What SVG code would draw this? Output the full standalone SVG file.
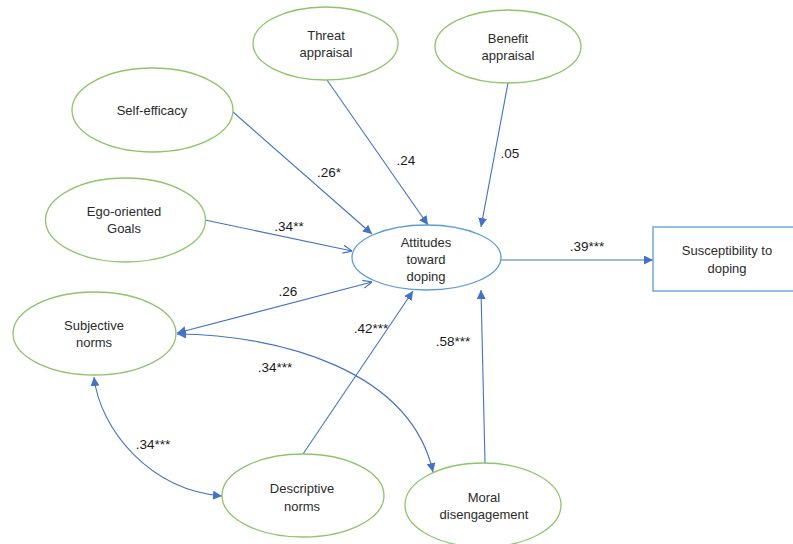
<svg xmlns="http://www.w3.org/2000/svg" width="793" height="544" viewBox="0 0 793 544">
<defs>
<style>
.n{fill:#fff;stroke:#8fc46c;stroke-width:1.3}
.b{fill:#fff;stroke:#5b9bd5;stroke-width:1.3}
.t{font-family:"Liberation Sans",Arial,sans-serif;font-size:13px;fill:#2b2b2b;text-anchor:middle}
.l{font-family:"Liberation Sans",Arial,sans-serif;font-size:13.5px;fill:#1a1a1a;text-anchor:middle}
.c{fill:none;stroke:#4472c4;stroke-width:1.1}
</style>
<marker id="f" viewBox="0 0 10 10" refX="10" refY="5" markerWidth="9" markerHeight="9" markerUnits="userSpaceOnUse" orient="auto-start-reverse"><path d="M0,0 L10,5 L0,10 Z" fill="#4472c4"/></marker>
<marker id="o" viewBox="0 0 10 10" refX="10" refY="5" markerWidth="10" markerHeight="10" markerUnits="userSpaceOnUse" orient="auto-start-reverse"><path d="M1,1 L10,5 L1,9" fill="none" stroke="#4472c4" stroke-width="1.2"/></marker>
</defs>
<rect width="793" height="544" fill="#fff"/>
<g id="connectors">
<line class="c" x1="233" y1="112" x2="372" y2="234" marker-end="url(#f)"/>
<line class="c" x1="327" y1="80" x2="428" y2="225" marker-end="url(#f)"/>
<line class="c" x1="508" y1="83" x2="481" y2="227" marker-end="url(#f)"/>
<line class="c" x1="205" y1="220" x2="352" y2="251" marker-end="url(#o)"/>
<line class="c" x1="177" y1="333" x2="372" y2="282" marker-start="url(#f)" marker-end="url(#o)"/>
<path class="c" d="M177,334 C280,335 410,370 433,472" marker-start="url(#f)" marker-end="url(#f)"/>
<path class="c" d="M94,377 C100,430 150,490 222,496" marker-start="url(#f)" marker-end="url(#f)"/>
<line class="c" x1="303" y1="454" x2="413" y2="291" marker-end="url(#f)"/>
<line class="c" x1="485" y1="463" x2="481" y2="290" marker-end="url(#f)"/>
<line class="c" x1="501" y1="260" x2="653" y2="260" marker-end="url(#f)"/>
</g>
<g id="labels">
<text class="l" x="329" y="177">.26*</text>
<text class="l" x="406" y="165">.24</text>
<text class="l" x="510" y="158">.05</text>
<text class="l" x="289" y="231">.34**</text>
<text class="l" x="587" y="251">.39***</text>
<text class="l" x="288" y="296">.26</text>
<text class="l" x="371" y="333">.42***</text>
<text class="l" x="453" y="346">.58***</text>
<text class="l" x="275" y="372">.34***</text>
<text class="l" x="153" y="449">.34***</text>
</g>
<g id="threat"><ellipse class="n" cx="325.5" cy="43.5" rx="72.5" ry="36.5"/><text class="t" x="326" y="40">Threat</text><text class="t" x="326" y="57">appraisal</text></g>
<g id="benefit"><ellipse class="n" cx="508" cy="46.5" rx="73" ry="36.5"/><text class="t" x="508" y="43">Benefit</text><text class="t" x="508" y="60">appraisal</text></g>
<g id="selfefficacy"><ellipse class="n" cx="152.5" cy="110" rx="80.5" ry="42"/><text class="t" x="152" y="115">Self-efficacy</text></g>
<g id="ego"><ellipse class="n" cx="125.5" cy="220" rx="80" ry="42"/><text class="t" x="124" y="216">Ego-oriented</text><text class="t" x="124" y="233">Goals</text></g>
<g id="attitudes"><ellipse class="b" cx="426.5" cy="257.5" rx="74.5" ry="32.5"/><text class="t" x="426" y="247">Attitudes</text><text class="t" x="426" y="264">toward</text><text class="t" x="426" y="281">doping</text></g>
<g id="susceptibility"><rect class="b" x="653" y="227" width="146" height="64"/><text class="t" x="727" y="255">Susceptibility to</text><text class="t" x="727" y="273">doping</text></g>
<g id="subjective"><ellipse class="n" cx="94.5" cy="333.5" rx="81.5" ry="41.5"/><text class="t" x="94" y="330">Subjective</text><text class="t" x="94" y="347">norms</text></g>
<g id="descriptive"><ellipse class="n" cx="303" cy="495.5" rx="81" ry="41.5"/><text class="t" x="302" y="493">Descriptive</text><text class="t" x="302" y="511">norms</text></g>
<g id="moral"><ellipse class="n" cx="483" cy="505" rx="78" ry="42"/><text class="t" x="484" y="502">Moral</text><text class="t" x="484" y="519">disengagement</text></g>
</svg>
